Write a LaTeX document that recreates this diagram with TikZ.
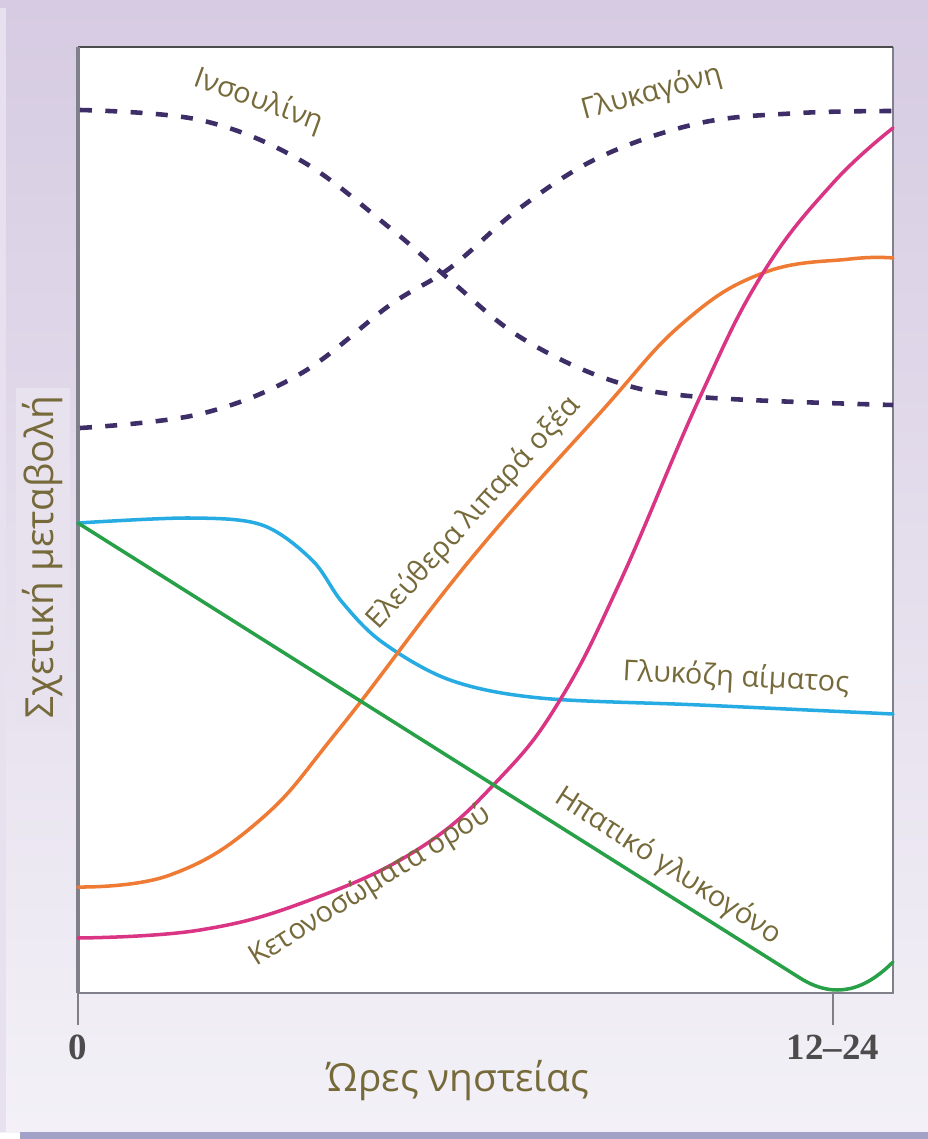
\documentclass[tikz,border=0pt]{standalone}
\usepackage{fontspec}
\setmainfont{Open Sans}
\newfontfamily\tickfont{Liberation Serif}
\usepackage{tikz}

\definecolor{olive}{RGB}{118,106,58}
\definecolor{lavtop}{RGB}{214,203,226}
\definecolor{lavbot}{RGB}{243,241,247}
\definecolor{framegray}{RGB}{128,128,138}
\definecolor{barblue}{RGB}{162,162,200}
\definecolor{hormone}{RGB}{62,46,104}
\definecolor{ffa}{RGB}{238,122,52}
\definecolor{ketone}{RGB}{218,52,132}
\definecolor{glucose}{RGB}{38,172,226}
\definecolor{glycogen}{RGB}{40,160,72}

\begin{document}
\begin{tikzpicture}[x={(0.01cm,0)}, y={(0,-0.01cm)},
    curve/.style={line width=1pt, line cap=round},
    hormcurve/.style={line width=1.3pt, hormone, dash pattern=on 3.4pt off 3.8pt},
    lbl/.style={olive, font=\fontsize{8.2}{9}\selectfont, inner sep=0pt},
    axlbl/.style={olive, font=\fontsize{11}{12}\selectfont, inner sep=0pt},
    tick/.style={font=\tickfont\bfseries\fontsize{10.5}{11}\selectfont, text=black!70, inner sep=0pt}]
  \useasboundingbox (0,0) rectangle (928,1139);
  % background and plot area
  \fill[top color=lavtop, bottom color=lavbot] (0,0) rectangle (928,1132);
  \fill[lavtop!60!white] (0,8) rectangle (6,1132);
  \fill[barblue] (20,1132) rectangle (928,1139);
  \fill[white] (78,47) rectangle (893,993);
  \draw[framegray, line width=0.6pt] (78,993) -- (893,993) -- (893,47);
  \draw[black!70, line width=0.8pt] (78,47) -- (893,47);
  \draw[framegray, line width=0.9pt] (78,47) -- (78,993);

  % x axis
  \coordinate (t0) at (78,993);
  \coordinate (t1) at (833,993);
  \node[tick] (zero) at (78,1047) {0};
  \node[tick] (end) at (833,1047) {12–24};
  \draw[framegray, line width=0.6pt] (t0) -- ++(0,32);
  \draw[framegray, line width=0.6pt] (t1) -- ++(0,32);

  % hormones
  \draw[hormcurve] plot[smooth, tension=0.6] coordinates {(80,110) (200,120) (300,160) (390,228) (450,280) (520,337) (610,380) (700,397) (893,405)};
  \draw[hormcurve] plot[smooth, tension=0.6] coordinates {(80,428) (200,414) (300,374) (390,305) (450,268) (520,208) (600,157) (700,123) (800,113) (893,111)};

  % metabolites
  \draw[curve, glucose] plot[smooth, tension=0.55] coordinates {(78,523) (190,518) (262,525) (312,560) (342,602) (382,642) (450,680) (540,698) (700,705) (893,714)};
  \draw[curve, ffa] plot[smooth, tension=0.7] coordinates {(78,887) (170,875) (260,820) (340,728) (470,560) (600,413) (683,323) (763,273) (850,259) (893,258)};
  \draw[curve, ketone] plot[smooth, tension=0.7] coordinates {(78,938) (200,930) (310,900) (420,848) (500,778) (560,700) (620,582) (700,397) (763,273) (833,183) (893,128)};
  \draw[curve, glycogen] (78,523) -- (800,978) .. controls (835,1000) and (865,990) .. (893,962);

  % labels
  \node[lbl, rotate=-20] (ins) at (259,101) {Ινσουλίνη};
  \node[lbl, rotate=15] (glc) at (652,93) {Γλυκαγόνη};
  \node[lbl, rotate=48] (ffal) at (474,513) {Ελεύθερα λιπαρά οξέα};
  \node[lbl, rotate=-3] (glul) at (736,678) {Γλυκόζη αίματος};
  \node[lbl, rotate=-33] (gyl) at (668,866) {Ηπατικό γλυκογόνο};
  \node[lbl, rotate=32] (ketl) at (370,886) {Κετονοσώματα ορού};
  \node[axlbl] (xlab) at (458,1081) {Ώρες νηστείας};
  \node[axlbl, rotate=90, fill=lavtop!55!white, inner sep=2pt] (ylab) at (43,557) {Σχετική μεταβολή};
\end{tikzpicture}
\end{document}
